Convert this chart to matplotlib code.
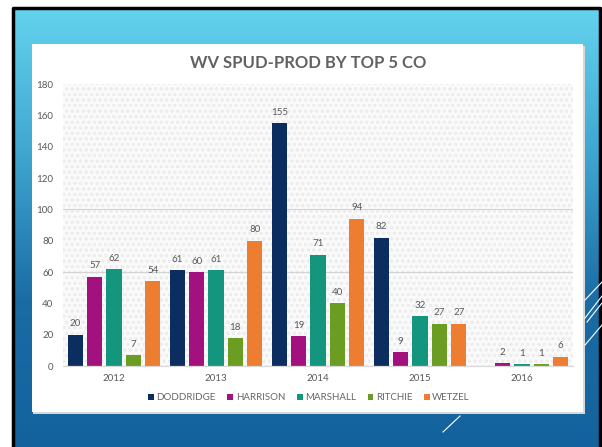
import numpy as np
import matplotlib
matplotlib.use("Agg")
import matplotlib.pyplot as plt
from matplotlib.patches import Rectangle
from matplotlib.lines import Line2D
from matplotlib.colors import LinearSegmentedColormap

years = ["2012", "2013", "2014", "2015", "2016"]
companies = ["DODDRIDGE", "HARRISON", "MARSHALL", "RITCHIE", "WETZEL"]
doddridge = [20, 61, 155, 82, np.nan]
harrison = [57, 60, 19, 9, 2]
marshall = [62, 61, 71, 32, 1]
ritchie = [7, 18, 40, 27, 1]
wetzel = [54, 80, 94, 27, 6]
series = [doddridge, harrison, marshall, ritchie, wetzel]
colors = ["#0b2d5f", "#a3117f", "#14957d", "#6a9d21", "#ec7d31"]
yticks = [0, 20, 40, 60, 80, 100, 120, 140, 160, 180]

plt.rcParams['font.family'] = ['Lato', 'DejaVu Sans']
plt.rcParams['hatch.color'] = '#e6e6e6'
plt.rcParams['hatch.linewidth'] = 0.6

W, H = 602, 447
fig = plt.figure(figsize=(W / 100, H / 100), dpi=100)
fig.patch.set_facecolor('white')

# background slide
bg = fig.add_axes([0, 0, 1, 1])
bg.set_xlim(0, W)
bg.set_ylim(H, 0)
bg.axis('off')
grad = np.linspace(0, 1, 256)[:, None]
cmap = LinearSegmentedColormap.from_list('g', ['#63d3ee', '#3fa6d0', '#1a6ca5', '#13629d'])
bg.imshow(grad, cmap=cmap, extent=[13, 601, H, 8], aspect='auto', zorder=0)
bg.plot([13, 13, 600, 600], [H, 8, 8, H], color='black', lw=2.5, zorder=1)
# white panel with shadow
bg.add_patch(Rectangle((33, 46), 552, 368, facecolor='#d8d8d8', edgecolor='none', zorder=2))
bg.add_patch(Rectangle((32, 44), 551, 368, facecolor='white', edgecolor='none', zorder=3))
# decorative lines
for (x0, y0, x1, y1) in [(585, 300, 602, 282), (585, 318, 602, 296), (587, 322, 602, 303),
                         (585, 345, 602, 325), (443, 432, 460, 416)]:
    bg.add_line(Line2D([x0, x1], [y0, y1], color='white', lw=0.8, zorder=4))

fig.text(308 / W, 1 - 63 / H, "WV SPUD-PROD BY TOP 5 CO", ha='center', va='center',
         fontsize=12, fontweight='bold', color='#626262')

ax = fig.add_axes([63 / W, 1 - 366 / H, (573 - 63) / W, (366 - 84) / H])
ax.set_facecolor('#fafafa')
ax.patch.set_hatch('ooo')
ax.patch.set_edgecolor('#ececec')
ax.patch.set_linewidth(0)

x = np.arange(len(years))
bw = 0.148
step = 0.19
for i, (vals, c, name) in enumerate(zip(series, colors, companies)):
    pos = x + (i - 2) * step
    ax.bar(pos, vals, width=bw, color=c, label=name, zorder=3)
    for xp, v in zip(pos, vals):
        if not np.isnan(v):
            ax.text(xp, v + 4, f"{int(v)}", ha='center', va='bottom', fontsize=7,
                    color='#595959', zorder=4)

ax.set_xlim(-0.5, len(years) - 0.5)
ax.set_ylim(0, 180)
ax.set_yticks(yticks)
ax.set_yticklabels([str(t) for t in yticks])
ax.set_xticks(x)
ax.set_xticklabels(years)
ax.tick_params(axis='both', length=0, labelsize=7, labelcolor='#595959')
ax.tick_params(axis='y', pad=7)
ax.tick_params(axis='x', pad=6)
ax.yaxis.grid(True, color='#d4d4d4', lw=0.8, zorder=1)
for t, gl in zip(yticks, ax.get_ygridlines()):
    gl.set_visible(t in (60, 100))
ax.set_axisbelow(True)
for s in ['top', 'right', 'left']:
    ax.spines[s].set_visible(False)
ax.spines['bottom'].set_color('#d9d9d9')
ax.spines['bottom'].set_linewidth(0.9)
ax.spines['bottom'].set_zorder(5)

leg = ax.legend(loc='center', bbox_to_anchor=(309 / W, 1 - 398 / H), bbox_transform=fig.transFigure,
                ncol=5, frameon=False, fontsize=7, handlelength=0.6, handleheight=0.6,
                handletextpad=0.25, columnspacing=1.2, labelcolor='#666666')

fig.savefig('out.png', dpi=100, facecolor=fig.get_facecolor())
